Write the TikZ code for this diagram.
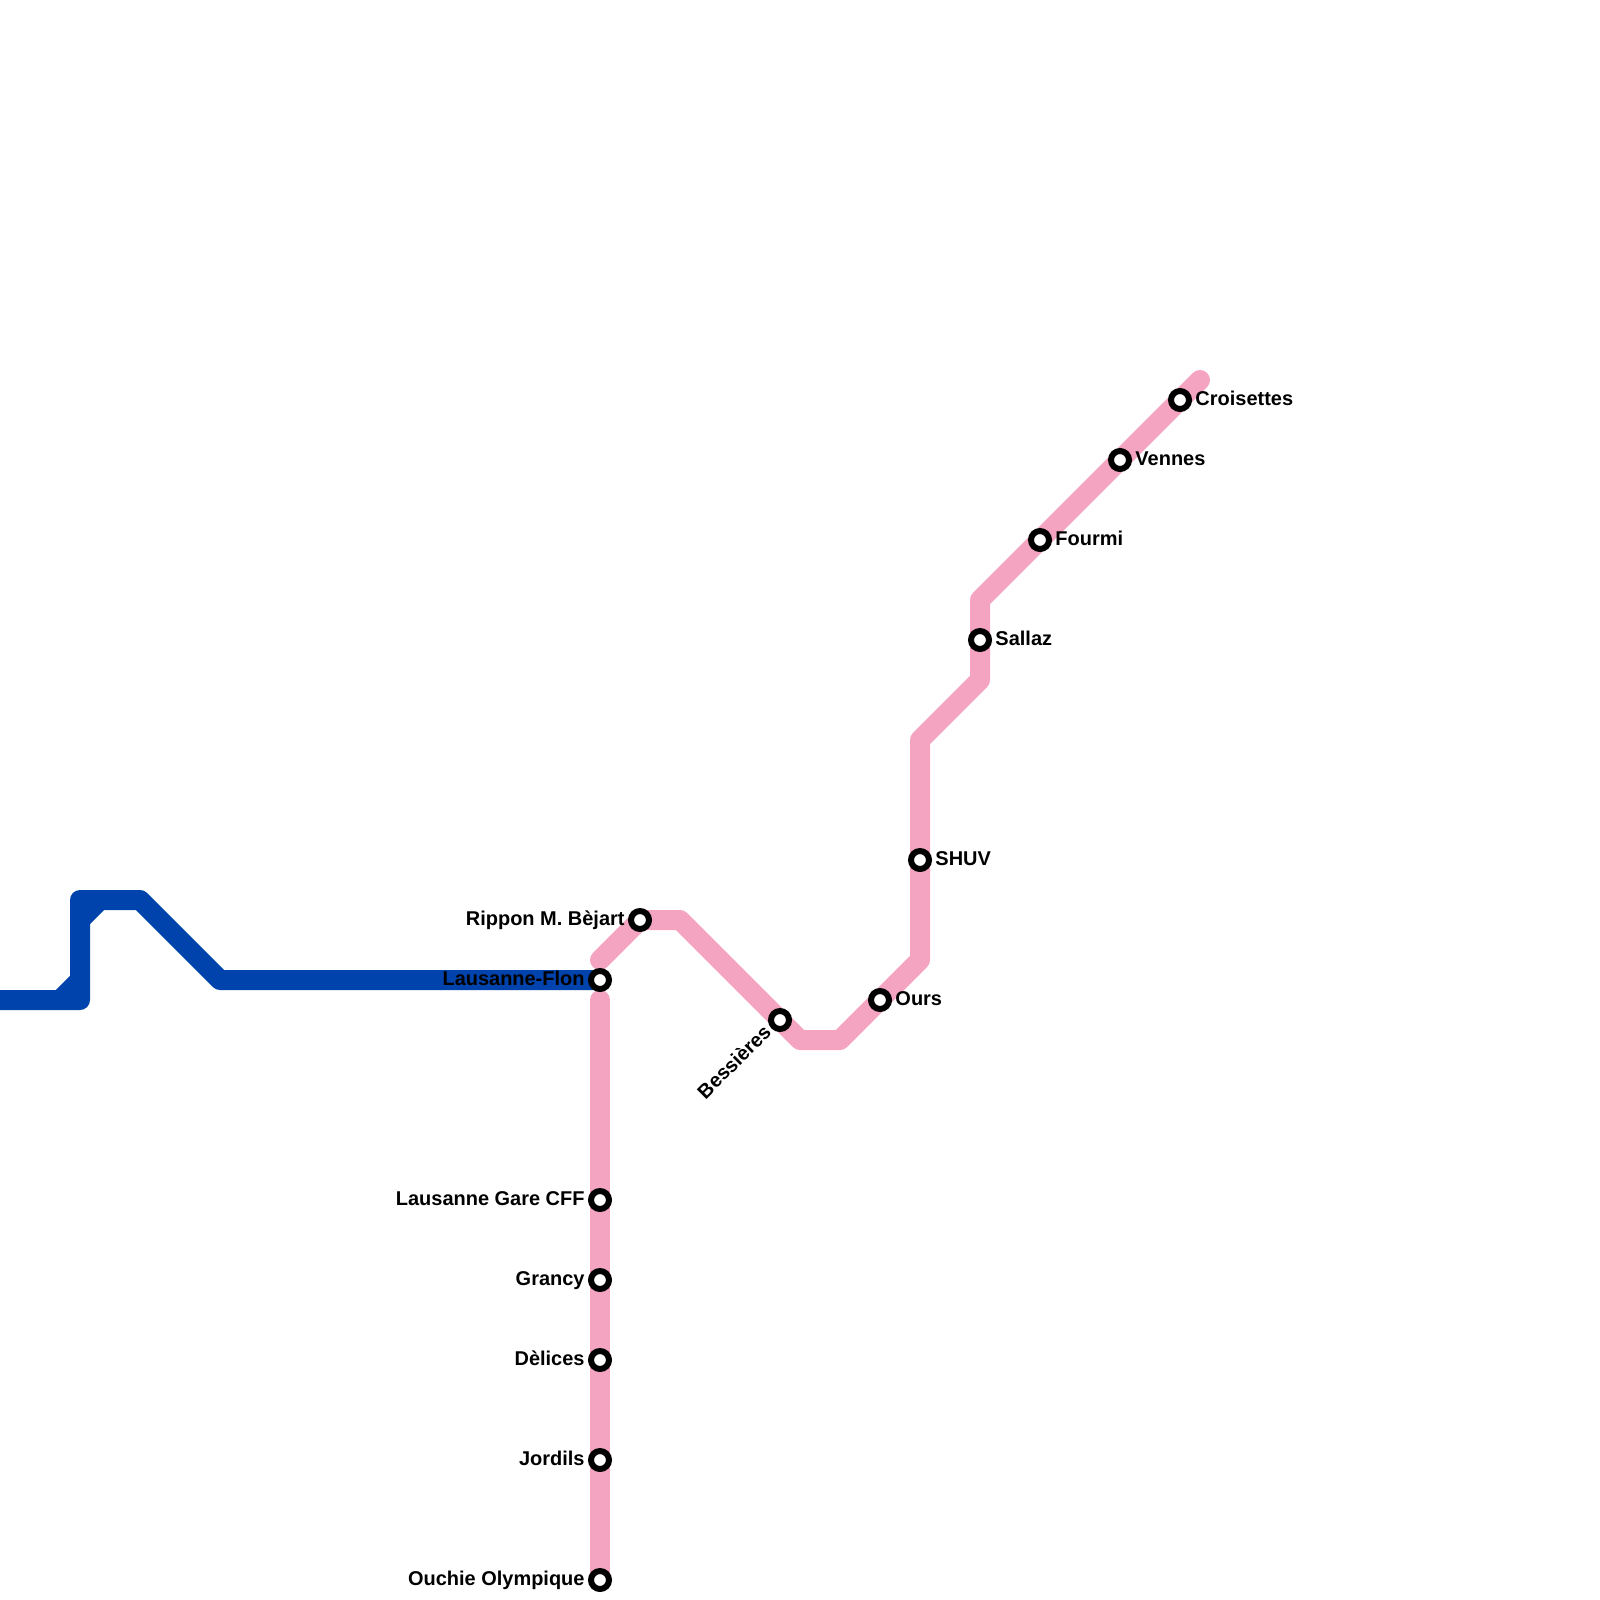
\documentclass[tikz,border=0pt]{standalone}
\usepackage{fontspec}
\setmainfont{Liberation Sans}
\usepackage{xcolor}
\usetikzlibrary{positioning,backgrounds}
\definecolor{pinkline}{HTML}{F4A4C0}
\definecolor{blueline}{HTML}{0043AD}

\begin{document}
\begin{tikzpicture}[
    x=0.5cm,y=-0.5cm,
    font=\fontsize{14.2pt}{16pt}\selectfont\bfseries,
    stn/.style={circle,draw=black,fill=white,line width=0.15cm,minimum size=0.45cm,inner sep=0pt},
    lbl/.style={inner sep=0pt,text height=0.36cm,text depth=0.09cm,node distance=0.08cm},
    pinkroute/.style={pinkline,line width=0.5cm,line cap=round,line join=round},
    blueroute/.style={blueline,line width=0.5cm,line join=round},
  ]
  \useasboundingbox (0,0) rectangle (80,80);

  % stations
  \node[stn] (flon) at (30,49) {};
  \node[stn] (rippon) at (32,46) {};
  \node[stn] (bessieres) at (39,51) {};
  \node[stn] (ours) at (44,50) {};
  \node[stn] (shuv) at (46,43) {};
  \node[stn] (sallaz) at (49,32) {};
  \node[stn] (fourmi) at (52,27) {};
  \node[stn] (vennes) at (56,23) {};
  \node[stn] (croisettes) at (59,20) {};
  \node[stn] (gare) at (30,60) {};
  \node[stn] (grancy) at (30,64) {};
  \node[stn] (delices) at (30,68) {};
  \node[stn] (jordils) at (30,73) {};
  \node[stn] (ouchie) at (30,79) {};

  \node[lbl,left=of flon] (flonlbl) {Lausanne-Flon};
  \node[lbl,left=of rippon] (ripponlbl) {Rippon M. Bèjart};
  \node[lbl,right=of ours] (ourslbl) {Ours};
  \node[lbl,right=of shuv] (shuvlbl) {SHUV};
  \node[lbl,right=of sallaz] (sallazlbl) {Sallaz};
  \node[lbl,right=of fourmi] (fourmilbl) {Fourmi};
  \node[lbl,right=of vennes] (venneslbl) {Vennes};
  \node[lbl,right=of croisettes] (croisetteslbl) {Croisettes};
  \node[lbl,left=of gare] (garelbl) {Lausanne Gare CFF};
  \node[lbl,left=of grancy] (grancylbl) {Grancy};
  \node[lbl,left=of delices] (deliceslbl) {Dèlices};
  \node[lbl,left=of jordils] (jordilslbl) {Jordils};
  \node[lbl,left=of ouchie] (ouchielbl) {Ouchie Olympique};
  \node[lbl,rotate=45,anchor=east] (bessiereslbl) at ([shift={(-0.07cm,-0.02cm)}]bessieres.south west) {Bessières};

  % line ends and bends
  \coordinate (w0) at (0,50);
  \coordinate (w1) at (3,50);
  \coordinate (w2) at (4,50);
  \coordinate (w3) at (4,49);
  \coordinate (w4) at (4,46);
  \coordinate (w5) at (4,45);
  \coordinate (w6) at (5,45);
  \coordinate (w7) at (7,45);
  \coordinate (w8) at (11,49);
  \coordinate (p0) at (30,48);
  \coordinate (p1) at (34,46);
  \coordinate (p2) at (40,52);
  \coordinate (p3) at (42,52);
  \coordinate (p4) at (46,48);
  \coordinate (p5) at (46,37);
  \coordinate (p6) at (49,34);
  \coordinate (p7) at (49,30);
  \coordinate (p8) at (60,19);
  \coordinate (s0) at (30,50);

  \begin{scope}[on background layer]
    \draw[blueroute] (w0) -- (w2) -- (w5) -- (w7) -- (w8) -- (flon.center);
    \draw[blueroute] (w1) -- (w3);
    \draw[blueroute] (w4) -- (w6);
    \draw[pinkroute] (p0) -- (rippon.center) -- (p1) -- (p2) -- (p3) -- (p4) -- (p5) -- (p6) -- (p7) -- (p8);
    \draw[pinkroute] (s0) -- (ouchie.center);
  \end{scope}
\end{tikzpicture}
\end{document}
